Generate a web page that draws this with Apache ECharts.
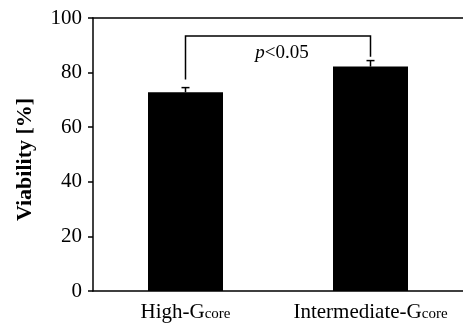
<!DOCTYPE html>
<html>
<head>
<meta charset="utf-8">
<script src="https://cdn.jsdelivr.net/npm/echarts@6/dist/echarts.min.js"></script>
<style>html,body{margin:0;padding:0;background:#fff}#c{width:463px;height:332px}</style>
</head>
<body>
<div id="c"></div>
<script>
var categories = ['High-G|core', 'Intermediate-G|core'];
var means = [72.8, 82.2];
var errors = [1.7, 2.2];
var yTicks = [0, 20, 40, 60, 80, 100];
var bracket = [0, 1, 77.5, 85.8, 93.4];  // left cat, right cat, left end, right end, top
var sigText = 'p<0.05';
var sigTextValue = 87.2;

var FONT = 'Liberation Serif';
var chart = echarts.init(document.getElementById('c'));
chart.setOption({
  animation: false,
  grid: { left: 93, right: -4, top: 18, bottom: 41 },
  xAxis: [{
    type: 'category',
    data: categories,
    axisLine: { lineStyle: { color: '#000', width: 1.5 } },
    axisTick: { show: false },
    axisLabel: {
      margin: 11,
      formatter: function (v) { var p = v.split('|'); return '{a|' + p[0] + '}{b|' + p[1] + '}'; },
      rich: {
        a: { fontFamily: FONT, fontSize: 21, color: '#000' },
        b: { fontFamily: FONT, fontSize: 15, color: '#000', verticalAlign: 'bottom', padding: [0,0,1,0] }
      }
    }
  }, {
    type: 'category',
    position: 'top',
    data: categories,
    axisLine: { lineStyle: { color: '#000', width: 1.5 } },
    axisTick: { show: false },
    axisLabel: { show: false }
  }],
  yAxis: {
    type: 'value',
    min: yTicks[0],
    max: yTicks[yTicks.length - 1],
    interval: 20,
    name: 'Viability [%]',
    nameLocation: 'middle',
    nameGap: 57,
    nameTextStyle: { fontFamily: FONT, fontSize: 22, fontWeight: 'bold', color: '#000', padding: [0, 0, 0, -10] },
    axisLine: { show: true, lineStyle: { color: '#000', width: 1.5 } },
    axisTick: { show: true, length: 5, lineStyle: { color: '#000', width: 1.5 } },
    axisLabel: { margin: 11, fontFamily: FONT, fontSize: 21, color: '#000' },
    splitLine: { show: false }
  },
  series: [{
    type: 'bar',
    data: means,
    barWidth: 75,
    itemStyle: { color: '#000' }
  }, {
    type: 'custom',
    data: means.map(function (m, i) { return [i, m, errors[i]]; }),
    renderItem: function (params, api) {
      var i = api.value(0), m = api.value(1), e = api.value(2);
      var p0 = api.coord([i, m]);
      var p1 = api.coord([i, m + e]);
      var st = { stroke: '#000', lineWidth: 1.5 };
      return { type: 'group', children: [
        { type: 'line', shape: { x1: p0[0], y1: p0[1], x2: p1[0], y2: p1[1] }, style: st },
        { type: 'line', shape: { x1: p1[0] - 4, y1: p1[1], x2: p1[0] + 4, y2: p1[1] }, style: st }
      ]};
    },
    z: 3
  }, {
    type: 'custom',
    data: [bracket],
    renderItem: function (params, api) {
      var a = api.value(0), b = api.value(1), l = api.value(2), r = api.value(3), t = api.value(4);
      var pl = api.coord([a, l]), plt = api.coord([a, t]);
      var pr = api.coord([b, r]), prt = api.coord([b, t]);
      var mid = api.coord([a, sigTextValue]);
      var cx = (pl[0] + pr[0]) / 2 + 4;
      return { type: 'group', children: [
        { type: 'polyline', shape: { points: [pl, plt, prt, pr] }, style: { stroke: '#000', lineWidth: 1.5, fill: null } },
        { type: 'text', x: cx, y: mid[1], style: {
          text: '{i|' + sigText.charAt(0) + '}{n|' + sigText.slice(1) + '}',
          align: 'center', verticalAlign: 'middle',
          rich: {
            i: { fontFamily: FONT, fontSize: 19, fontStyle: 'italic', fill: '#000' },
            n: { fontFamily: FONT, fontSize: 19, fill: '#000' }
          }
        } }
      ]};
    },
    z: 3
  }]
});
</script>
</body>
</html>
